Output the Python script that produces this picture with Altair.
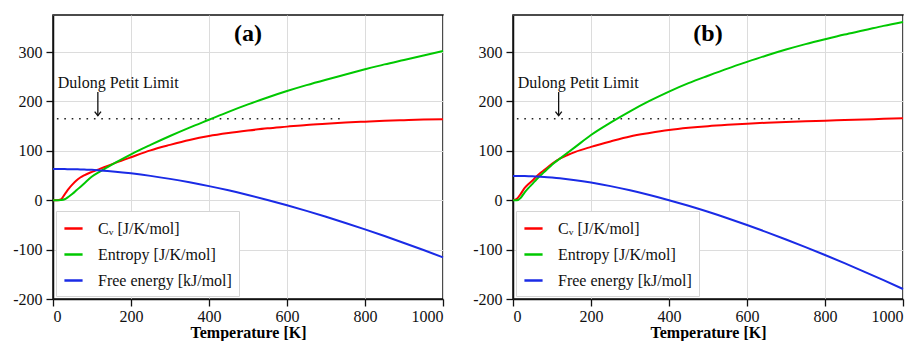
import altair as alt
import pandas as pd

T = [0, 10, 20, 30, 40, 50, 60, 70, 80, 100, 120, 140, 160, 200, 250, 300, 350, 400, 450, 500,
     550, 600, 650, 700, 750, 800, 850, 900, 950, 1000]

cv_a = [0, 0, 1.5, 12, 23, 32, 40, 46, 50.5, 57.5, 63.5, 69.5, 75.5, 87, 101, 112, 122, 130, 136, 141,
        145.5, 149, 152.5, 155, 157.2, 159, 160.7, 162, 163.2, 164]
s_a = [0, 0, 0.5, 2, 7, 13, 20, 27, 34, 48, 58, 67, 76, 93, 112, 130, 147, 163, 179, 194,
       208, 221, 233, 244, 254.5, 265, 275, 284, 293, 302]
f_a = [63, 63, 63, 63, 62.9, 62.8, 62.6, 62.4, 62.1, 61.5, 60.4, 59.2, 57.8, 54.4, 49.3, 43.2, 36.2, 28.5, 20, 10.6,
       0.55, -10.2, -21.5, -33.5, -46, -59, -72.5, -86.5, -100.9, -115.8]

cv_b = [0, 3, 13, 25, 33, 40, 48, 55, 61, 73.5, 84, 91.5, 98, 108, 119, 129, 136, 142, 146.5, 150,
        152.7, 155, 157, 158.5, 160, 161, 162.3, 163.5, 164.8, 166]
s_b = [0, 0, 5, 16, 25, 33, 42, 50, 57, 72, 84, 96, 108, 132, 157, 180, 201, 220, 237, 252,
       266.5, 280, 293, 305, 316, 326, 335.5, 344, 353, 361]
f_b = [49, 49, 49, 48.9, 48.7, 48.4, 48, 47.6, 47.1, 45.8, 44.3, 42.5, 40.5, 35.7, 28.5, 20.1, 10.6, 0.1, -11.3, -23.5,
       -36.5, -50.2, -64.5, -79.5, -95, -111, -127.5, -144.5, -161.9, -179.8]

series_names = ["C\u1d65 [J/K/mol]", "Entropy [J/K/mol]", "Free energy [kJ/mol]"]
series_colors = ["#ff0000", "#00c800", "#1a2be6"]

panel_labels = ["(a)", "(b)"]
dulong_value = [165, 165]
dulong_range = [10, 750]
dulong_text = "Dulong Petit Limit"
arrow_T = [115, 117]

FONT = "Liberation Serif"


def make_panel(idx, cv, s, f):
    rows = []
    for name, vals in zip(series_names, [cv, s, f]):
        for t, v in zip(T, vals):
            rows.append({"T": t, "value": v, "series": name})
    df = pd.DataFrame(rows)

    xs = alt.Scale(domain=[0, 1000], nice=False)
    ys = alt.Scale(domain=[-200, 375], nice=False)

    lines = alt.Chart(df).mark_line(strokeWidth=2, interpolate="monotone").encode(
        x=alt.X("T:Q", scale=xs,
                axis=alt.Axis(values=[0, 200, 400, 600, 800, 1000], title="Temperature [K]",
                              labelExpr="toString(datum.value)")),
        y=alt.Y("value:Q", scale=ys,
                axis=alt.Axis(values=[-200, -100, 0, 100, 200, 300], title=None,
                              labelExpr="toString(datum.value)")),
        color=alt.Color("series:N",
                        scale=alt.Scale(domain=series_names, range=series_colors),
                        legend=alt.Legend(title=None, orient="bottom-left")),
    )

    dl = pd.DataFrame({"x": [dulong_range[0]], "x2": [dulong_range[1]], "y": [dulong_value[idx]]})
    dotted = alt.Chart(dl).mark_rule(color="#222222", strokeWidth=1.6, strokeDash=[1.6, 5.8]).encode(
        x=alt.X("x:Q", scale=xs), x2="x2:Q", y=alt.Y("y:Q", scale=ys))

    txt = pd.DataFrame({"x": [12], "y": [237], "t": [dulong_text]})
    label = alt.Chart(txt).mark_text(align="left", baseline="middle", font=FONT, fontSize=16,
                                     color="#111111").encode(
        x=alt.X("x:Q", scale=xs), y=alt.Y("y:Q", scale=ys), text="t:N")

    ar = pd.DataFrame({"x": [arrow_T[idx]], "y": [219], "y2": [171]})
    shaft = alt.Chart(ar).mark_rule(color="#111111", strokeWidth=1.3).encode(
        x=alt.X("x:Q", scale=xs), y=alt.Y("y:Q", scale=ys), y2="y2:Q")
    head = alt.Chart(ar).mark_point(shape="M-1,-1.3L0,0L1,-1.3", size=40, filled=False,
                                    color="#111111", strokeWidth=1.3, opacity=1).encode(
        x=alt.X("x:Q", scale=xs), y=alt.Y("y2:Q", scale=ys))

    tl = pd.DataFrame({"x": [500], "y": [336], "t": [panel_labels[idx]]})
    title = alt.Chart(tl).mark_text(font=FONT, fontSize=24, fontWeight="bold", color="#000000",
                                    baseline="middle").encode(
        x=alt.X("x:Q", scale=xs), y=alt.Y("y:Q", scale=ys), text="t:N")

    return alt.layer(dotted, lines, label, shaft, head, title).properties(width=390, height=284)


chart = alt.hconcat(
    make_panel(0, cv_a, s_a, f_a),
    make_panel(1, cv_b, s_b, f_b),
    spacing=23,
).resolve_scale(
    color="independent"
).resolve_legend(
    color="independent"
).properties(
    padding={"left": 3, "top": 6, "right": 0, "bottom": 0}
).configure_view(
    stroke="#111111", strokeWidth=1.5
).configure_axis(
    labelFont=FONT, labelFontSize=16, labelColor="#111111",
    titleFont=FONT, titleFontSize=16, titleFontWeight="bold", titleColor="#000000",
    domainColor="#111111", domainWidth=1.5, tickColor="#111111", tickSize=7, tickWidth=1.3,
    gridColor="#dcdcdc", gridWidth=1, labelPadding=4, titlePadding=0,
).configure_axisX(
    labelPadding=2,
).configure_legend(
    labelFont=FONT, labelFontSize=16, labelColor="#111111", offset=3, padding=7,
    fillColor="#ffffff", strokeColor="#d4d4d4", symbolType="stroke", symbolStrokeWidth=2.5,
    symbolSize=330, labelOffset=14, rowPadding=7, labelLimit=300,
)

chart.save("out.html", embed_options={"renderer": "svg", "actions": False})
